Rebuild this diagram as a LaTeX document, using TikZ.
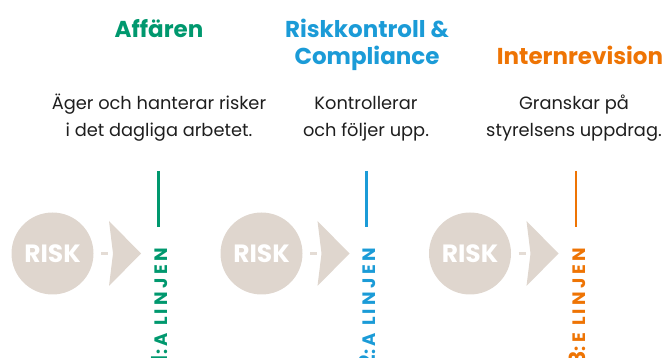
\documentclass[tikz,border=0pt]{standalone}
\usepackage{fontspec}
\setmainfont{Poppins}
\newfontfamily\linjefont[LetterSpace=18.5]{Poppins}
\usetikzlibrary{positioning}
\definecolor{affgreen}{RGB}{0,152,110}
\definecolor{ctrlblue}{RGB}{27,155,215}
\definecolor{revorange}{RGB}{238,116,4}
\definecolor{riskbeige}{RGB}{223,214,206}
\definecolor{textdark}{RGB}{30,30,30}

\begin{document}
\begin{tikzpicture}[x=1pt, y=1pt,
  heading/.style={anchor=base, align=center, font=\fontsize{23}{27}\selectfont\bfseries},
  desc/.style={anchor=base, align=center, text=textdark, font=\fontsize{17.8}{27}\selectfont},
  risk/.style={circle, fill=riskbeige, minimum size=82pt, inner sep=0pt, text=white, font=\fontsize{25}{25}\selectfont\bfseries},
  riskdash/.style={draw=riskbeige!85, line width=2.5pt},
  chevron/.style={fill=riskbeige},
  divider/.style={line width=2.3pt},
  linje/.style={rotate=90, anchor=east, inner sep=0pt, font=\linjefont\fontsize{18}{18}\selectfont\bfseries}
]
\useasboundingbox (0,0) rectangle (663,358);

% Headings (base = last line)
\node[heading, text=affgreen] (aff) at (159,320) {Affären};
\node[heading, text=ctrlblue] (ctrl) at (367,293) {Riskkontroll \&\\Compliance};
\node[heading, text=revorange] (rev) at (580,293) {Internrevision};

% Descriptions
\node[desc] (affdesc) at (159,221) {Äger och hanterar risker\\i det dagliga arbetet.};
\node[desc] (ctrldesc) at (366,221) {Kontrollerar\\och följer upp.};
\node[desc] (revdesc) at (574,221) {Granskar på\\styrelsens uppdrag.};

% Dividers
\coordinate (top1) at (158.5,187);
\coordinate (top2) at (366.5,187);
\coordinate (top3) at (576,187);
\draw[divider, affgreen] (top1) -- ++(0,-56);
\draw[divider, ctrlblue] (top2) -- ++(0,-56);
\draw[divider, revorange] (top3) -- ++(0,-56);

% Risk circles
\node[risk] (risk1) at (52.5,104.5) {RISK};
\node[risk] (risk2) at (261.5,104.5) {RISK};
\node[risk] (risk3) at (470,104.5) {RISK};

% Arrows
\coordinate (tip1) at (141,104.5);
\coordinate (tip2) at (349.5,104.5);
\coordinate (tip3) at (558.5,104.5);
\draw[riskdash] ([xshift=7.5pt]risk1.east) -- ([xshift=14.5pt]risk1.east);
\draw[riskdash] ([xshift=7.5pt]risk2.east) -- ([xshift=14.5pt]risk2.east);
\draw[riskdash] ([xshift=7.5pt]risk3.east) -- ([xshift=14.5pt]risk3.east);
\fill[chevron] (tip1) -- ++(-32,32.5) -- ++(4,-32.5) -- ++(-4,-32.5) -- cycle;
\fill[chevron] (tip2) -- ++(-32,32.5) -- ++(4,-32.5) -- ++(-4,-32.5) -- cycle;
\fill[chevron] (tip3) -- ++(-32,32.5) -- ++(4,-32.5) -- ++(-4,-32.5) -- cycle;

% Line labels
\node[linje, text=affgreen] (linje1) at (159.5,110) {{\fontsize{22}{22}\selectfont 1}:A LINJEN};
\node[linje, text=ctrlblue] (linje2) at (367.5,110) {{\fontsize{22}{22}\selectfont 2}:A LINJEN};
\node[linje, text=revorange] (linje3) at (577,110) {{\fontsize{22}{22}\selectfont 3}:E LINJEN};

\end{tikzpicture}
\end{document}
